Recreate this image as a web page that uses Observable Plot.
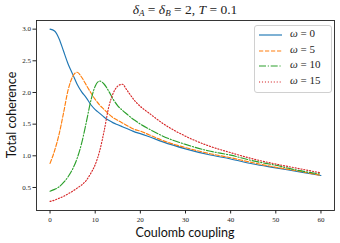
<!DOCTYPE html>
<html>
<head>
<meta charset="utf-8">
<script src="https://cdn.jsdelivr.net/npm/d3@7"></script>
<script src="https://cdn.jsdelivr.net/npm/@observablehq/plot@0.6"></script>
<style>
  html, body { margin: 0; padding: 0; background: #fff; }
  #wrap { position: relative; width: 340px; height: 243px; overflow: hidden; }
  #title { position: absolute; left: 36px; width: 298px; top: 2px; text-align: center;
    font-family: "Liberation Serif", serif; font-size: 13.5px; line-height: 16px; color: #222; }
  #title i { font-style: italic; }
  #title sub { font-size: 9px; vertical-align: -2px; line-height: 0; }
  #ylab { position: absolute; left: 11px; top: 115px; transform: translate(-50%, -50%) rotate(-90deg);
    font-family: Lato, "Open Sans", sans-serif; font-size: 12.5px; white-space: nowrap; color: #111; }
  #xlab { position: absolute; left: 185px; top: 232px; transform: translate(-50%, -50%);
    font-family: Lato, "Open Sans", sans-serif; font-size: 12.5px; white-space: nowrap; color: #111; }
  #legend { position: absolute; left: 254px; top: 25px; width: 76px; height: 66px;
    border: 1px solid #d0d0d0; border-radius: 3px; background: rgba(255,255,255,0.8); }
  .lrow { position: absolute; left: 0; height: 14px; width: 76px; }
  .lrow svg { position: absolute; left: 4px; top: 2px; }
  .lrow span { position: absolute; left: 35px; top: -1px; font-family: "Liberation Serif", serif;
    font-size: 11px; white-space: nowrap; color: #222; }
  .lrow span i { font-style: italic; }
</style>
</head>
<body>
<div id="wrap">
  <div id="chart"></div>
  <div id="title"><i>δ</i><sub><i>A</i></sub> = <i>δ</i><sub><i>B</i></sub> = 2, <i>T</i> = 0.1</div>
  <div id="ylab">Total coherence</div>
  <div id="xlab">Coulomb coupling</div>
  <div id="legend"></div>
</div>
<script>
// Coulomb coupling values (x)
const coupling = [0,1,2,3,4,5,6,7,8,9,10,11,12,13,14,15,16,17,18,19,20,22,25,30,35,40,45,50,55,60];
// Total coherence per omega
const omega0  = [3.00,2.97,2.85,2.65,2.45,2.29,2.13,2.01,1.92,1.81,1.73,1.67,1.61,1.56,1.52,1.49,1.46,1.43,1.40,1.37,1.35,1.30,1.22,1.11,1.02,0.95,0.87,0.81,0.75,0.69];
const omega5  = [0.88,1.08,1.34,1.68,2.04,2.25,2.32,2.24,2.12,2.00,1.89,1.80,1.73,1.66,1.60,1.56,1.52,1.48,1.44,1.41,1.39,1.33,1.24,1.13,1.04,0.97,0.89,0.82,0.76,0.69];
const omega10 = [0.44,0.47,0.51,0.58,0.67,0.79,0.96,1.20,1.52,1.86,2.10,2.18,2.13,2.02,1.89,1.79,1.72,1.66,1.60,1.55,1.50,1.42,1.31,1.18,1.08,1.01,0.92,0.85,0.77,0.71];
const omega15 = [0.28,0.30,0.33,0.36,0.40,0.44,0.49,0.54,0.61,0.72,0.86,1.08,1.40,1.77,1.99,2.10,2.13,2.04,1.94,1.85,1.78,1.67,1.51,1.31,1.16,1.05,0.95,0.87,0.80,0.73];
const seriesNames = ["ω = 0", "ω = 5", "ω = 10", "ω = 15"];
const seriesValues = [omega0, omega5, omega10, omega15];
const xTicks = [0,10,20,30,40,50,60];
const yTicks = [0.5,1.0,1.5,2.0,2.5,3.0];

const colors = ["#1f77b4", "#ff7f0e", "#2ca02c", "#d62728"];
const dashes = [null, "4.2,1.8", "7,1.8,1.1,1.8", "1.1,1.85"];

const data = [];
seriesValues.forEach((vals, s) => vals.forEach((v, i) => data.push({x: coupling[i], y: v, s})));

const marks = seriesValues.map((_, s) => Plot.line(data.filter(d => d.s === s), {
  x: "x", y: "y", stroke: colors[s], strokeWidth: 1.15,
  strokeDasharray: dashes[s] || undefined, curve: "monotone-x"
}));

const plot = Plot.plot({
  width: 340, height: 243,
  marginLeft: 36, marginRight: 6, marginTop: 20, marginBottom: 33,
  style: {fontFamily: "'Liberation Serif', serif", fontSize: "7px", color: "#222", background: "white"},
  x: {domain: [-3, 63], ticks: xTicks, label: null},
  y: {domain: [0.1365, 3.1365], ticks: yTicks, label: null},
  marks: [
    ...marks,
    Plot.axisX({ticks: xTicks, tickSize: 3.5, tickPadding: 3, label: null, tickFormat: d3.format("d"), fontSize: 7}),
    Plot.axisY({ticks: yTicks, tickSize: 3.5, tickPadding: 2, label: null, tickFormat: d3.format(".1f"), fontSize: 7}),
    Plot.frame({stroke: "#222", strokeWidth: 0.9})
  ]
});
document.getElementById("chart").appendChild(plot);

// legend
const leg = document.getElementById("legend");
seriesNames.forEach((name, s) => {
  const row = document.createElement("div");
  row.className = "lrow";
  row.style.top = (2 + s * 15.7) + "px";
  const dash = dashes[s] ? `stroke-dasharray="${dashes[s]}"` : "";
  const parts = name.split(" ");
  row.innerHTML = `<svg width="24" height="10"><line x1="0" y1="5" x2="23" y2="5" stroke="${colors[s]}" stroke-width="1.15" ${dash}/></svg><span><i>ω</i> = ${parts[2]}</span>`;
  leg.appendChild(row);
});
</script>
</body>
</html>
